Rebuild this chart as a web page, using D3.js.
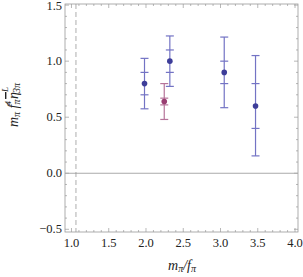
<!DOCTYPE html>
<meta charset="utf-8">
<style>
  body { margin: 0; background: #fff; }
  svg text { font-family: "Liberation Serif", "Times New Roman", "DejaVu Serif", serif; fill: #222; }
  .tick-label { font-size: 12.5px; }
</style>
<svg width="303" height="277"></svg>
<script src="https://cdn.jsdelivr.net/npm/d3@7/dist/d3.min.js"></script>
<script>
  // data
  var xs = [1.98, 2.32, 3.05, 3.47]
  var ys = [0.80, 1.00, 0.90, 0.60]
  var innerLo = [0.70, 0.90, 0.80, 0.40]
  var innerHi = [0.90, 1.10, 1.00, 0.80]
  var outerLo = [0.575, 0.775, 0.585, 0.155]
  var outerHi = [1.025, 1.225, 1.215, 1.05]

  var redX = [2.245]
  var redY = [0.64]
  var redInnerLo = [0.61]
  var redInnerHi = [0.67]
  var redOuterLo = [0.48]
  var redOuterHi = [0.80]

  var xTicks = [1.0, 1.5, 2.0, 2.5, 3.0, 3.5, 4.0]
  var yTicks = [-0.5, 0.0, 0.5, 1.0, 1.5]
  var dashX = 1.06

  var svg = d3.select("svg"),
    plotL = 65, plotR = 298, plotT = 4, plotB = 232

  var x = d3.scaleLinear().domain([0.913, 4.04]).range([plotL, plotR])
  var y = d3.scaleLinear().domain([-0.524, 1.51]).range([plotB, plotT])

  var g = svg.append("g")

  // frame
  g.append("rect")
    .attr("x", plotL).attr("y", plotT)
    .attr("width", plotR - plotL).attr("height", plotB - plotT)
    .attr("fill", "none").attr("stroke", "#999").attr("stroke-width", 0.8)

  // tick marks on all four sides
  var xMinor = d3.range(10, 41).map(d => d / 10)
  var yMinor = d3.range(-5, 16).map(d => d / 10)
  function isMajor(v) { return Math.abs(v * 2 - Math.round(v * 2)) < 1e-6 }

  xMinor.forEach(v => {
    var len = isMajor(v) ? 4 : 2
    g.append("line").attr("x1", x(v)).attr("x2", x(v)).attr("y1", plotB).attr("y2", plotB - len)
      .attr("stroke", "#999").attr("stroke-width", 0.7)
    g.append("line").attr("x1", x(v)).attr("x2", x(v)).attr("y1", plotT).attr("y2", plotT + len)
      .attr("stroke", "#999").attr("stroke-width", 0.7)
  })
  yMinor.forEach(v => {
    var len = isMajor(v) ? 4 : 2
    g.append("line").attr("x1", plotL).attr("x2", plotL + len).attr("y1", y(v)).attr("y2", y(v))
      .attr("stroke", "#999").attr("stroke-width", 0.7)
    g.append("line").attr("x1", plotR).attr("x2", plotR - len).attr("y1", y(v)).attr("y2", y(v))
      .attr("stroke", "#999").attr("stroke-width", 0.7)
  })

  g.selectAll(".xl").data(xTicks).enter().append("text")
    .attr("class", "tick-label")
    .attr("x", d => x(d)).attr("y", plotB + 15)
    .attr("text-anchor", "middle")
    .text(d => d.toFixed(1))

  g.selectAll(".yl").data(yTicks).enter().append("text")
    .attr("class", "tick-label")
    .attr("x", plotL - 3).attr("y", d => Math.max(y(d) + 4, 10))
    .attr("text-anchor", "end")
    .text(d => (d < 0 ? "\u2212" + (-d).toFixed(1) : d.toFixed(1)))

  // zero line and dashed line
  g.append("line").attr("x1", plotL).attr("x2", plotR).attr("y1", y(0)).attr("y2", y(0))
    .attr("stroke", "#aaa").attr("stroke-width", 1)
  g.append("line").attr("x1", x(dashX)).attr("x2", x(dashX)).attr("y1", plotT).attr("y2", plotB)
    .attr("stroke", "#999").attr("stroke-width", 0.8).attr("stroke-dasharray", "5,3")

  function errorBars(px, py, iLo, iHi, oLo, oHi, lineColor, dotColor) {
    px.forEach((xv, i) => {
      var cx = x(xv)
      g.append("line").attr("x1", cx).attr("x2", cx).attr("y1", y(oLo[i])).attr("y2", y(oHi[i]))
        .attr("stroke", lineColor).attr("stroke-width", 1.2)
      ;[oLo[i], oHi[i], iLo[i], iHi[i]].forEach(v => {
        g.append("line").attr("x1", cx - 4).attr("x2", cx + 4).attr("y1", y(v)).attr("y2", y(v))
          .attr("stroke", lineColor).attr("stroke-width", 1.2)
      })
      g.append("circle").attr("cx", cx).attr("cy", y(py[i])).attr("r", 2.8)
        .attr("fill", dotColor)
    })
  }

  errorBars(xs, ys, innerLo, innerHi, outerLo, outerHi, "#7373c4", "#3d3d99")
  errorBars(redX, redY, redInnerLo, redInnerHi, redOuterLo, redOuterHi, "#b6749a", "#993d71")

  // axis labels
  var xl = svg.append("text").attr("x", 182).attr("y", 270).attr("text-anchor", "middle")
    .attr("font-size", 14).style("font-style", "italic")
  xl.append("tspan").text("m")
  xl.append("tspan").attr("font-size", 10).attr("dy", 2).text("\u03c0")
  xl.append("tspan").attr("dy", -2).text("/f")
  xl.append("tspan").attr("font-size", 10).attr("dy", 2).text("\u03c0")

  var yl = svg.append("text").attr("transform", "translate(18,105) rotate(-90)")
    .attr("text-anchor", "middle").attr("font-size", 14).style("font-style", "italic")
  yl.append("tspan").text("m")
  yl.append("tspan").attr("font-size", 10).attr("dy", 2).text("\u03c0")
  yl.append("tspan").attr("dy", -2).text(" f")
  yl.append("tspan").attr("font-size", 10).attr("dy", 2).text("\u03c0")
  yl.append("tspan").attr("font-size", 9).attr("dy", -9).attr("dx", -6).text("4")
  yl.append("tspan").attr("dy", 7).attr("dx", 2).style("text-decoration", "overline").text("\u03b7")
  yl.append("tspan").attr("font-size", 9).attr("dy", -10).text("L")
  yl.append("tspan").attr("font-size", 10).attr("dy", 12).attr("dx", -6).text("3\u03c0")
</script>
